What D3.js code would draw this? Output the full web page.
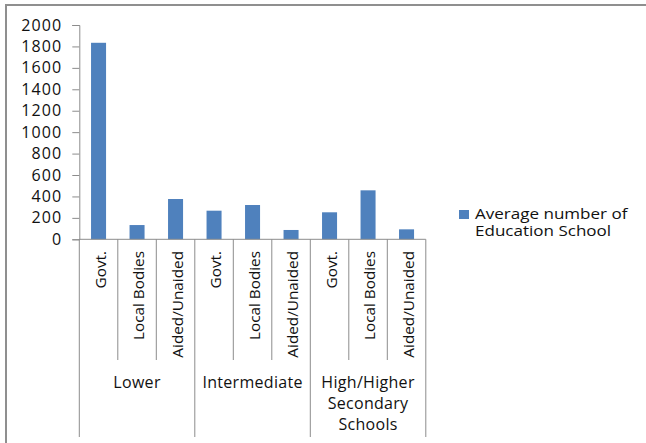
<!DOCTYPE html>
<html>
<head>
<meta charset="utf-8">
<script src="https://cdn.jsdelivr.net/npm/d3@7"></script>
<style>
  html, body { margin: 0; padding: 0; background: #fff; }
  svg { display: block; }
  text { font-family: "Open Sans", "Liberation Sans", sans-serif; fill: #111; }
</style>
</head>
<body>
<svg id="chart" width="646" height="443"></svg>
<script>
// School categories grouped by level
const groups = ["Lower", "Intermediate", "High/Higher Secondary Schools"];
const groupLines = [["Lower"], ["Intermediate"], ["High/Higher", "Secondary", "Schools"]];
const managements = ["Govt.", "Local Bodies", "Aided/Unaided"];
// Average number of education schools per category (3 per group)
const values = [1834, 133, 376, 267, 320, 87, 252, 457, 93];
const yTicks = [0, 200, 400, 600, 800, 1000, 1200, 1400, 1600, 1800, 2000];
const seriesName = ["Average number of", "Education School"];

const svg = d3.select("#chart");
const barColor = "#4f81bd";
const axisColor = "#8c8c8c";

// outer chart frame
svg.append("rect")
  .attr("x", 6).attr("y", 5).attr("width", 660).attr("height", 460)
  .attr("fill", "none").attr("stroke", "#8f8f8f").attr("stroke-width", 2);

const plot = { left: 79.3, right: 425.8, top: 25, bottom: 239.3 };

const cats = [];
groups.forEach((g, gi) => managements.forEach((m, mi) => cats.push({ g, gi, m, mi, i: gi * 3 + mi })));

const x = d3.scaleBand().domain(cats.map(c => c.i)).range([plot.left, plot.right]).padding(0);
const y = d3.scaleLinear().domain([0, 2000]).range([plot.bottom, plot.top]);

// y axis
const yAxis = svg.append("g")
  .attr("transform", `translate(${plot.left},0)`)
  .call(d3.axisLeft(y).tickValues(yTicks).tickSize(7).tickPadding(10).tickFormat(d3.format("d")));
yAxis.select(".domain").attr("stroke", axisColor);
yAxis.selectAll(".tick line").attr("stroke", axisColor);
yAxis.selectAll(".tick text").attr("font-size", 16).attr("fill", "#111")
  .attr("letter-spacing", 1.1);

// bars
const barW = x.bandwidth() * 0.39;
svg.append("g").selectAll("rect").data(cats).join("rect")
  .attr("x", d => x(d.i) + (x.bandwidth() - barW) / 2)
  .attr("y", d => y(values[d.i]))
  .attr("width", barW)
  .attr("height", d => y(0) - y(values[d.i]))
  .attr("fill", barColor);

// x axis baseline
svg.append("line")
  .attr("x1", plot.left).attr("x2", plot.right)
  .attr("y1", plot.bottom).attr("y2", plot.bottom)
  .attr("stroke", axisColor);

// category separators: short between managements, long between groups
const sepX = d3.range(cats.length + 1);
svg.append("g").selectAll("line").data(sepX).join("line")
  .attr("x1", i => i < cats.length ? x(i) : x(cats.length - 1) + x.bandwidth())
  .attr("x2", i => i < cats.length ? x(i) : x(cats.length - 1) + x.bandwidth())
  .attr("y1", plot.bottom)
  .attr("y2", i => i % 3 === 0 ? 437 : 360)
  .attr("stroke", axisColor);

// rotated management labels
svg.append("g").selectAll("text").data(cats).join("text")
  .attr("transform", d => `translate(${x(d.i) + x.bandwidth() / 2 + 1},251) rotate(-90)`)
  .attr("text-anchor", "end")
  .attr("dominant-baseline", "central")
  .attr("font-size", 15.3)
  .text(d => d.m);

// group labels
const groupG = svg.append("g").selectAll("text").data(groupLines).join("text")
  .attr("text-anchor", "middle")
  .attr("font-size", 16)
  .attr("letter-spacing", 0.3)
  .attr("x", (d, gi) => (x(gi * 3) + x(gi * 3 + 2) + x.bandwidth()) / 2)
  .attr("y", 388);
groupG.selectAll("tspan").data(d => d).join("tspan")
  .attr("x", function () { return d3.select(this.parentNode).attr("x"); })
  .attr("dy", (d, i) => i === 0 ? 0 : 21)
  .text(d => d);

// legend (lettering widened to the chart's broad legend type)
const legend = svg.append("g").attr("transform", "translate(459,210)");
legend.append("rect").attr("width", 10).attr("height", 9).attr("fill", barColor);
legend.selectAll("text").data(seriesName).join("text")
  .attr("x", 16).attr("y", (d, i) => 8.5 + i * 17.2)
  .attr("font-size", 14.2)
  .text(d => d)
  .each(function () {
    const w = this.getComputedTextLength();
    d3.select(this).attr("textLength", w * 1.2).attr("lengthAdjust", "spacingAndGlyphs");
  });
</script>
</body>
</html>
